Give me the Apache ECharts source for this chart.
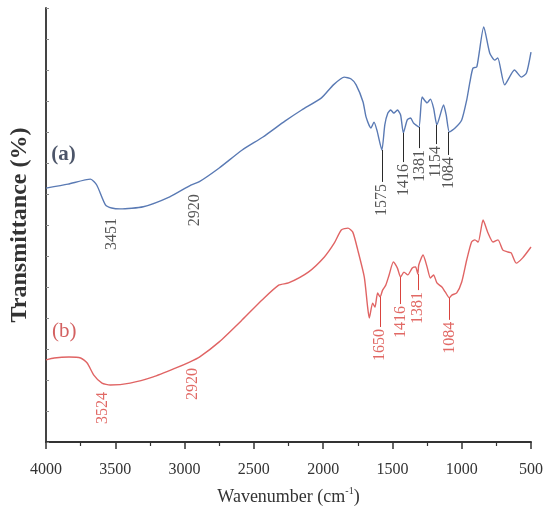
<!DOCTYPE html>
<html>
<head>
<meta charset="utf-8">
<script src="https://cdn.jsdelivr.net/npm/echarts@6/dist/echarts.min.js"></script>
<style>html,body{margin:0;padding:0;background:#fff;}#c{width:546px;height:519px;}</style>
</head>
<body>
<div id="c"></div>
<script>
// Curve (a) — wavenumber (cm-1) and transmittance (arbitrary, offset)
const wnA = [4000,3841,3679,3634,3571,3526,3464,3298,3107,2955,2893,2750,2584,2434,2276,2155,2012,1926,1848,1798,1762,1712,1690,1655,1633,1612,1576,1555,1533,1512,1490,1464,1441,1421,1393,1369,1348,1309,1286,1250,1226,1203,1179,1131,1112,1089,1048,1000,964,941,919,891,841,798,762,740,690,619,569,533,500];
const tA = [81.9,83.2,84.8,82.9,76.5,75.5,75.2,75.9,79.1,82.9,84.0,88.4,94.2,98.4,103.5,107.1,111.0,115.2,117.7,117.1,115.2,109.7,104.8,101.3,103.2,100.6,94.2,102.3,106.1,107.1,106.1,107.1,105.5,99.7,103.9,104.5,102.9,101.6,111.3,109.4,110.6,107.7,102.3,108.7,105.5,100.0,101.3,103.9,110.3,116.1,120.6,121.0,133.9,125.5,123.2,123.9,115.2,120.0,117.7,119.0,125.8];

// Curve (b)
const wnB = [4000,3941,3834,3750,3703,3655,3596,3536,3393,3226,3062,2964,2893,2750,2584,2441,2321,2250,2107,1991,1919,1869,1821,1786,1750,1703,1679,1667,1643,1626,1607,1589,1571,1548,1524,1493,1464,1441,1417,1389,1357,1333,1317,1310,1279,1250,1226,1203,1179,1143,1119,1089,1071,1036,1000,964,929,905,881,846,810,774,738,703,667,643,607,560,500];
const tB = [26.5,27.1,27.4,27.1,25.5,21.6,19.0,18.4,19.0,21.0,23.9,25.8,27.4,32.3,39.4,45.8,50.6,51.3,54.8,59.7,64.2,68.4,69.0,67.7,61.9,53.2,43.5,40.0,44.8,43.5,48.1,46.8,49.0,50.6,53.9,58.1,56.1,53.2,54.8,53.9,56.1,56.5,54.2,57.1,60.3,56.5,52.9,53.9,51.3,50.0,48.4,46.5,47.4,48.1,51.6,58.7,64.5,65.2,64.5,71.6,67.4,64.5,65.2,61.9,61.3,61.0,57.7,59.4,62.9];

// Peak annotations (a)
const annALabels = ['3451','2920','1575','1416','1381','1154','1084'];
const annAPos = [3526,2929,1576,1421,1305,1187,1094];
const annALineTop = [null,null,94.2,99.7,101.6,102.3,100.0];
const annATextTop = [72.9,80.6,83.9,90.3,94.8,96.1,92.6];

// Peak annotations (b)
const annBLabels = ['3524','2920','1650','1416','1381','1084'];
const annBPos = [3591,2941,1589,1441,1317,1089];
const annBLineTop = [null,null,46.8,53.2,54.2,46.5];
const annBTextTop = [16.8,24.5,37.1,44.5,49.0,39.4];

// Sample tags
const tagLabels = ['(a)','(b)'];
const tagPos = [3874,3869];
const tagT = [92.6,35.5];

// Axis ticks
const xTickMin = 500, xTickMax = 4000, xTickStep = 500;

const SERIF = "'Liberation Serif','Times New Roman',serif";
const colA = '#5a7ab4', colB = '#e06464';
const txtA = '#2a2a2a', txtB = '#d9443e';
const tagColors = ['#1f2a44', '#c83a3a'];
const tagWeights = ['bold', 'normal'];

function zip(x, y){ return x.map((v,i)=>[v,y[i]]); }
function lines(pos, top, bot){
  const out = [];
  pos.forEach((p,i)=>{ if(top[i]!=null) out.push([{coord:[p,top[i]]},{coord:[p,bot[i]]}]); });
  return out;
}
function annScatter(labels, pos, top, color){
  return {
    type:'scatter', symbolSize:0, silent:true, z:5,
    data: pos.map((p,i)=>({name:labels[i], value:[p, top[i]]})),
    label:{show:true, formatter:'{b}', position:'inside', rotate:90, align:'right', verticalAlign:'middle',
      padding:[0,2,0,0], fontFamily:SERIF, fontSize:16, color:color}
  };
}

const chart = echarts.init(document.getElementById('c'), null, {renderer:'canvas'});
chart.setOption({
  animation:false,
  backgroundColor:'#fff',
  grid:{left:41.7, right:14.3, top:8, bottom:77},
  xAxis:{
    type:'value', inverse:true, min:xTickMin, max:xTickMax, interval:xTickStep,
    name:'Wavenumber (cm{sup|-1})', nameLocation:'middle', nameGap:44,
    nameTextStyle:{fontFamily:SERIF, fontSize:18, color:'#333',
      rich:{sup:{fontFamily:SERIF, fontSize:10, verticalAlign:'top', lineHeight:22, padding:[0,0,8,0], color:'#333'}}},
    axisLine:{show:true, onZero:false, lineStyle:{color:'#333', width:2}},
    axisTick:{show:true, inside:false, length:7, lineStyle:{color:'#333', width:1.5}},
    minorTick:{show:true, splitNumber:2, length:4, lineStyle:{color:'#333', width:1.2}},
    axisLabel:{show:true, margin:20, fontFamily:SERIF, fontSize:16, color:'#333', showMinLabel:true, showMaxLabel:true,
      formatter: v => String(v)},
    splitLine:{show:false}
  },
  yAxis:{
    type:'value', min:0, max:140, interval:10,
    name:'Transmittance (%)', nameLocation:'middle', nameGap:14, nameRotate:90,
    nameTextStyle:{fontFamily:SERIF, fontSize:24, fontWeight:'bold', color:'#333'},
    axisLine:{show:true, lineStyle:{color:'#444', width:2}},
    axisTick:{show:true, inside:true, length:3, lineStyle:{color:'#888', width:1}},
    axisLabel:{show:false},
    splitLine:{show:false}
  },
  series:[
    {type:'line', name:'a', data:zip(wnA,tA), showSymbol:false, smooth:0.2,
      lineStyle:{color:colA, width:1.4}, itemStyle:{color:colA},
      markLine:{silent:true, symbol:'none', label:{show:false}, lineStyle:{color:txtA, width:1, type:'solid'},
        data:lines(annAPos, annALineTop, annATextTop)}},
    {type:'line', name:'b', data:zip(wnB,tB), showSymbol:false, smooth:0.2,
      lineStyle:{color:colB, width:1.4}, itemStyle:{color:colB},
      markLine:{silent:true, symbol:'none', label:{show:false}, lineStyle:{color:txtB, width:1, type:'solid'},
        data:lines(annBPos, annBLineTop, annBTextTop)}},
    annScatter(annALabels, annAPos, annATextTop, txtA),
    annScatter(annBLabels, annBPos, annBTextTop, txtB),
    {type:'scatter', symbolSize:0, silent:true, z:5,
      data: tagPos.map((p,i)=>({name:tagLabels[i], value:[p, tagT[i]],
        label:{color:tagColors[i], fontWeight:tagWeights[i]}})),
      label:{show:true, formatter:'{b}', position:'inside', align:'center', verticalAlign:'middle',
        fontFamily:SERIF, fontSize:21}}
  ]
});
</script>
</body>
</html>
